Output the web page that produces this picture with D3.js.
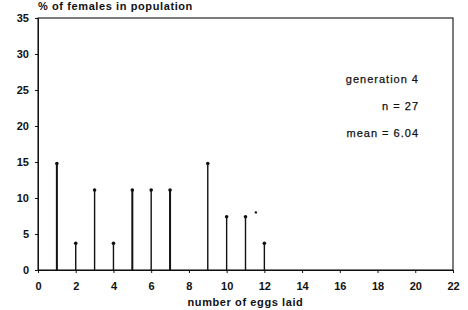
<!DOCTYPE html>
<html><head><meta charset="utf-8">
<script src="https://cdn.jsdelivr.net/npm/d3@7"></script>
<style>
body{margin:0;background:#fff;}
text{font-family:"Liberation Sans",Arial,sans-serif;fill:#111;}
</style></head>
<body>
<svg id="c" width="468" height="310"></svg>
<script>
const eggs = [1, 2, 3, 4, 5, 6, 7, 9, 10, 11, 12];
const pct = [14.8, 3.7, 11.1, 3.7, 11.1, 11.1, 11.1, 14.8, 7.4, 7.4, 3.7];
const strayPoint = [{x: 11.55, y: 8.0}];
const xTicks = [0, 2, 4, 6, 8, 10, 12, 14, 16, 18, 20, 22];
const yTicks = [0, 5, 10, 15, 20, 25, 30, 35];
const notes = ["generation 4", "n = 27", "mean = 6.04"];

const svg = d3.select("#c");
const L = 38, R = 453, T = 18, B = 270;
const x = d3.scaleLinear().domain([0, 22]).range([L, R]);
const y = d3.scaleLinear().domain([0, 35]).range([B, T]);

// frame
svg.append("rect").attr("x", L).attr("y", T).attr("width", R - L).attr("height", B - T)
  .attr("fill", "none").attr("stroke", "#111").attr("stroke-width", 1.1);

const xa = svg.append("g").attr("transform", `translate(0,${B})`)
  .call(d3.axisBottom(x).tickValues(xTicks).tickSize(3).tickPadding(9).tickSizeOuter(0));
const ya = svg.append("g").attr("transform", `translate(${L},0)`)
  .call(d3.axisLeft(y).tickValues(yTicks).tickSize(3).tickPadding(6).tickSizeOuter(0));
[xa, ya].forEach(a => {
  a.select(".domain").attr("stroke", "#111");
  a.selectAll(".tick line").attr("stroke", "#111");
  a.selectAll(".tick text").attr("font-size", 11).attr("font-weight", "bold")
    .attr("font-family", "Liberation Sans, Arial, sans-serif").attr("fill", "#111");
});

// stems
const data = eggs.map((e, i) => ({x: e, y: pct[i]}));
svg.append("g").selectAll("line").data(data).join("line")
  .attr("x1", d => x(d.x)).attr("x2", d => x(d.x))
  .attr("y1", y(0)).attr("y2", d => y(d.y))
  .attr("stroke", "#111").attr("stroke-width", d => (d.x === 1 || d.x === 5 || d.x === 7) ? 2 : 1.4);
svg.append("g").selectAll("circle").data(data).join("circle")
  .attr("cx", d => x(d.x)).attr("cy", d => y(d.y)).attr("r", 1.8).attr("fill", "#111");
svg.append("g").selectAll("circle").data(strayPoint).join("circle")
  .attr("cx", d => x(d.x)).attr("cy", d => y(d.y)).attr("r", 1.2).attr("fill", "#111");

// titles
svg.append("text").attr("x", L).attr("y", 10).attr("font-size", 11).attr("font-weight", "bold")
  .attr("letter-spacing", 0.6).text("% of females in population");
svg.append("text").attr("x", (L + R) / 2).attr("y", 306).attr("text-anchor", "middle")
  .attr("font-size", 11).attr("font-weight", "bold").attr("letter-spacing", 0.6).text("number of eggs laid");

// notes
const noteY = [83, 110, 137];
svg.append("g").selectAll("text").data(notes).join("text")
  .attr("x", 419).attr("y", (d, i) => noteY[i]).attr("text-anchor", "end")
  .attr("font-size", 11).attr("letter-spacing", 1).attr("stroke", "#111").attr("stroke-width", 0.25)
  .text(d => d);
</script>
</body></html>
